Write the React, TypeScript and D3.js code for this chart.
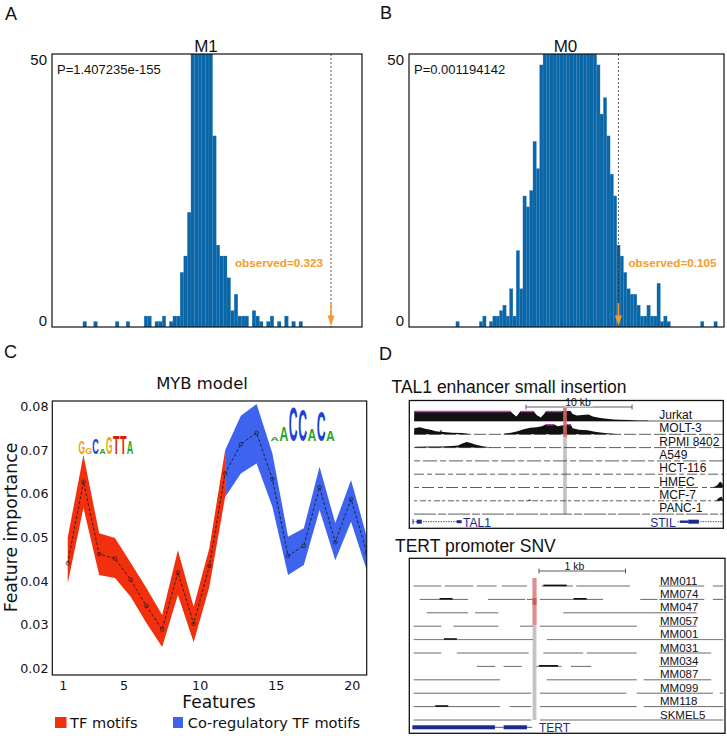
import React from "react";
import * as d3 from "d3";

const HELV = "'Liberation Sans', Arial, Helvetica, sans-serif";
const DEJA = "'DejaVu Sans', sans-serif";

// ---------- Panel A / B : permutation histograms (counts per bin) ----------
const histA = [
  0, 0, 0, 0, 0, 0, 0, 0, 1, 0, 0, 1, 0, 0, 0, 0, 0, 1,
  0, 0, 1, 0, 0, 0, 0, 2, 2, 0,
  1, 1, 2, 0, 1, 2, 2, 10, 13, 21,
  62, 95, 118, 112, 88, 64, 35, 15, 13, 13,
  9, 3, 6, 2, 2, 2, 0, 3, 2, 1,
  0, 1, 2, 0, 1, 0, 2, 0, 1, 0,
  1, 0, 0, 0, 0, 0, 0, 0, 0, 0, 0, 0, 0, 0, 0, 0, 0,
];
const histB = [
  0, 0, 0, 0, 0, 0, 0, 0, 0, 0, 0, 0, 0, 0,
  1, 0, 0, 0, 0, 0, 0,
  1, 2, 0, 1, 2, 2, 3, 4, 2, 7,
  2, 14, 7, 24, 22, 25, 34, 29, 48, 55,
  60, 66, 72, 78, 82, 85, 88, 86, 84, 80,
  75, 70, 64, 58, 53, 48, 39, 42, 35, 28,
  24, 15, 13, 10, 7, 6, 6, 4, 2, 2,
  4, 2, 2, 8, 1, 2, 1,
  0, 0, 0, 0, 0, 0, 0, 0, 0,
  1, 0, 0, 0, 1, 0, 0,
];
const histYTicks = [0, 50];
const titleA = "M1";
const titleB = "M0";
const pTextA = "P=1.407235e-155";
const pTextB = "P=0.001194142";
const obsTextA = "observed=0.323";
const obsTextB = "observed=0.105";
const obsBinA = 76.9;
const obsBinB = 62.5;

// ---------- Panel C : feature importance ----------
const featureIds = [1, 2, 3, 4, 5, 6, 7, 8, 9, 10, 11, 12, 13, 14, 15, 16, 17, 18, 19, 20];
const featMean = [0.0441, 0.0628, 0.0462, 0.0452, 0.0403, 0.0343, 0.0289, 0.042, 0.0302, 0.0435, 0.0647, 0.0714, 0.074, 0.0634, 0.0458, 0.0481, 0.0615, 0.0489, 0.0588, 0.0465];
const featUpper = [0.05, 0.0689, 0.051, 0.0499, 0.0442, 0.0384, 0.0322, 0.0471, 0.0341, 0.0476, 0.07, 0.0779, 0.0806, 0.0693, 0.0502, 0.0521, 0.0662, 0.0533, 0.0632, 0.0502];
const featLower = [0.0395, 0.0568, 0.0414, 0.0407, 0.0364, 0.0304, 0.0249, 0.0368, 0.026, 0.0387, 0.0593, 0.0647, 0.067, 0.0571, 0.0414, 0.0437, 0.0563, 0.0448, 0.0536, 0.0425];
const tfRange = [1, 11];
const coRange = [11, 20];
const cYTicks = [0.02, 0.03, 0.04, 0.05, 0.06, 0.07, 0.08];
const cXTicks = [1, 5, 10, 15, 20];
const legendLabels = ["TF motifs", "Co-regulatory TF motifs"];
// sequence logos: one dominant letter per column [letter, height]
const logoTF: [string, number][] = [["G", 13], ["G", 6], ["C", 16], ["A", 4.5], ["G", 17], ["T", 18], ["T", 18], ["A", 13]];
const logoCo: [string, number][] = [["A", 3.5], ["A", 15], ["C", 35], ["C", 32], ["A", 12], ["C", 30], ["A", 11]];

// ---------- Panel D : genome browser tracks ----------
const talTracks = ["Jurkat", "MOLT-3", "RPMI 8402", "A549", "HCT-116", "HMEC", "MCF-7", "PANC-1"];
const jurkatCov: [number, number][] = [[0.45, 0], [0.47, 10], [9.5, 10], [9.8, 7], [10.1, 4.5], [10.35, 8], [10.5, 10], [11.7, 10], [12.0, 6], [12.4, 3.5], [12.7, 7], [12.9, 10], [15.2, 10], [15.4, 7], [15.8, 5.5], [16.3, 6], [16.9, 6.5], [17.3, 4.5], [18.0, 3], [18.6, 2.2], [19.3, 1.5], [19.9, 1.2], [20.8, 0.9], [21.5, 0.6], [22.4, 0.5], [22.6, 0]];
const jurkatSat: [number, number][] = [[0.47, 9.5], [10.5, 11.7], [12.9, 14.4]];
const moltCov: [number, number][] = [[0.45, 0], [0.47, 6], [1.0, 7], [1.5, 5.5], [2.0, 4.5], [2.5, 3], [2.9, 2.5], [3.0, 5], [3.05, 2.5], [3.5, 2], [4.0, 1.5], [5.0, 1.2], [5.5, 0.5], [5.7, 0], [8.8, 0], [9.1, 1], [9.6, 1.5], [10.2, 3], [10.8, 5], [11.4, 6.5], [12.0, 7], [12.5, 8], [12.9, 10], [13.6, 10], [14.0, 8], [14.5, 9], [14.9, 10], [15.2, 10], [15.4, 6], [16.0, 4.5], [16.8, 4], [17.5, 2.5], [18.2, 1.5], [19.2, 0.6], [19.6, 0]];
const moltSat: [number, number][] = [[12.9, 13.6], [14.9, 15.2]];
const rpmiCov: [number, number][] = [[0.5, 0], [0.6, 0.8], [2.0, 1.2], [3.0, 1], [4.0, 1.5], [4.6, 2.2], [5.0, 4], [5.4, 5.5], [5.8, 4.5], [6.2, 3], [6.6, 2], [7.0, 1.2], [7.5, 0.6], [7.8, 0]];
const hmecCov: [number, number][] = [[28.6, 0], [29.0, 2], [29.3, 6], [29.5, 4], [29.6, 0]];
const mcfCov: [number, number][] = [[11.2, 0], [11.35, 1.5], [11.5, 0], [26.0, 0], [26.2, 1], [26.4, 0], [28.9, 0], [29.2, 3], [29.45, 4], [29.6, 0]];
const talDash = ["none", "12,3", "12,3", "6,3,14,3", "10,3,5,3", "5,3,12,4", "3,3,6,2", "22,2,8,2"];
const talScaleBar = [11, 21];
const talHighlight = [14.5, 14.85];

const tertTracks = ["MM011", "MM074", "MM047", "MM057", "MM001", "MM031", "MM034", "MM087", "MM099", "MM118", "SKMEL5"];
const tertSegs: [number, number][][] = [
  [[0.05, 0.37], [0.41, 0.74], [0.78, 1.01], [1.07, 1.36], [1.53, 1.89], [1.93, 2.55], [2.89, 3.41], [3.51, 3.63]],
  [[0.12, 0.68], [0.91, 1.34], [1.36, 1.43], [1.51, 2.24], [2.67, 2.87], [2.89, 3.41], [3.51, 3.63]],
  [[0.2, 0.68], [0.76, 1.03], [1.78, 3.32]],
  [[0.05, 0.37], [0.51, 1.03], [1.28, 1.43], [1.51, 2.63], [2.89, 3.32]],
  [[0.05, 1.43], [1.59, 3.63]],
  [[0.05, 0.37], [0.55, 1.38], [1.55, 2.01], [2.05, 2.63], [2.89, 3.49]],
  [[0.78, 0.99], [1.09, 1.3], [1.47, 1.76], [1.87, 2.1], [2.89, 3.32]],
  [[0.05, 1.05], [1.59, 2.63], [2.71, 3.49]],
  [[0.05, 1.41], [1.51, 2.51], [2.63, 3.51], [3.59, 3.63]],
  [[0.05, 1.05], [1.16, 1.41], [1.51, 2.63], [2.71, 3.63]],
  [[0.05, 1.41], [1.51, 3.63]],
];
const tertBumps: [number, number, number][] = [[0, 1.55, 1.82], [1, 0.35, 0.5], [1, 1.9, 2.05], [6, 1.5, 1.72], [4, 0.4, 0.55], [9, 0.3, 0.45]];
const tertScaleBar = [1.5, 2.5];
const tertHighlight = [1.425, 1.47];

const BLUE = "#0a66a6";
const ORANGE = "#f39a2e";
const NAVY = "#1c2a8c";

function Histogram(props: {
  counts: number[]; left: number; right: number; top: number; bottom: number;
  domain: [number, number]; title: string; pText: string; obsBin: number; obsText: string; obsLeft: boolean; id: string;
}) {
  const { counts, left, right, top, bottom, domain, title, pText, obsBin, obsText, obsLeft, id } = props;
  const x = d3.scaleLinear().domain(domain).range([left, right]);
  const y = d3.scaleLinear().domain([0, 50]).range([bottom, top]);
  const ox = x(obsBin);
  return (
    <g>
      <clipPath id={id}>
        <rect x={left} y={top} width={right - left} height={bottom - top} />
      </clipPath>
      <g clipPath={`url(#${id})`}>
        {counts.map((c, k) =>
          c > 0 ? (
            <rect key={k} x={x(k)} y={y(c)} width={x(k + 1) - x(k)} height={bottom - y(c)} fill={BLUE} stroke="#3b86c0" strokeWidth={0.3} />
          ) : null
        )}
      </g>
      <line x1={ox} x2={ox} y1={top} y2={bottom} stroke="#333" strokeWidth={0.8} strokeDasharray="2,2" />
      <rect x={left} y={top} width={right - left} height={bottom - top} fill="none" stroke="#111" strokeWidth={1.2} />
      {histYTicks.map((t) => (
        <text key={t} x={left - 5} y={y(t) + (t === 0 ? -1 : 11)} textAnchor="end" fontFamily={HELV} fontSize={15} fill="#111">{t}</text>
      ))}
      <text x={(left + right) / 2 - 1} y={51.5} textAnchor="middle" fontFamily={HELV} fontSize={17} fill="#111">{title}</text>
      <text x={left + 5} y={73.5} fontFamily={HELV} fontSize={13} fill="#111">{pText}</text>
      <text x={obsLeft ? ox - 8 : ox + 10} y={266.5} textAnchor={obsLeft ? "end" : "start"} fontFamily={HELV} fontSize={11.7} fontWeight="bold" fill={ORANGE}>{obsText}</text>
      <line x1={ox} x2={ox} y1={303} y2={318} stroke={ORANGE} strokeWidth={1.6} />
      <path d={`M${ox - 3.5},315.5 L${ox + 3.5},315.5 L${ox},326 Z`} fill={ORANGE} />
    </g>
  );
}

const ADV: Record<string, number> = { A: 0.722, C: 0.722, G: 0.778, T: 0.611 };
const LOGO_COL: Record<string, string> = { A: "#2aa52a", C: "#1f3fd6", G: "#f5a300", T: "#d61e0a" };

function Logo({ cols, x0, colW, yBottom }: { cols: [string, number][]; x0: number; colW: number; yBottom: number }) {
  return (
    <g>
      {cols.map(([ch, h], i) => {
        const sx = (colW * 0.95) / (ADV[ch] * 100);
        const sy = h / 71.6;
        return (
          <text key={i} transform={`translate(${x0 + colW * (i + 0.5)},${yBottom}) scale(${sx},${sy})`} textAnchor="middle" fontFamily={HELV} fontWeight="bold" fontSize={100} fill={LOGO_COL[ch]}>{ch}</text>
        );
      })}
    </g>
  );
}

function PanelC() {
  const left = 52.3, right = 366.7, top = 401, bottom = 675;
  const x = d3.scaleLinear().domain([0.277, 20.95]).range([left, right]);
  const y = d3.scaleLinear().domain([0.02, 0.08]).range([668.3, 406.7]);
  const pos = (f: number) => 1.29 + (f - 1) * 1.035;
  const rows = featureIds.map((f, i) => ({ f, m: featMean[i], u: featUpper[i], l: featLower[i] }));
  const area = d3.area<any>().x((d) => x(pos(d.f))).y0((d) => y(d.l)).y1((d) => y(d.u));
  const line = d3.line<any>().x((d) => x(pos(d.f))).y((d) => y(d.m));
  const tf = rows.filter((r) => r.f >= tfRange[0] && r.f <= tfRange[1]);
  const co = rows.filter((r) => r.f >= coRange[0] && r.f <= coRange[1]);
  return (
    <g>
      <text x={4} y={358} fontFamily={HELV} fontSize={18} fill="#111">C</text>
      <text x={202} y={389} textAnchor="middle" fontFamily={DEJA} fontSize={16.4} fill="#111">MYB model</text>
      <clipPath id="clipC"><rect x={left} y={top} width={right - left} height={bottom - top} /></clipPath>
      <g clipPath="url(#clipC)">
        <path d={area(tf) || ""} fill="#f2300e" />
        <path d={area(co) || ""} fill="#3d63ef" />
        <path d={line(rows) || ""} fill="none" stroke="#111" strokeWidth={0.8} strokeDasharray="3,2" />
        {rows.map((r) => (
          <circle key={r.f} cx={x(pos(r.f))} cy={y(r.m)} r={1.8} fill="none" stroke="#111" strokeWidth={0.6} />
        ))}
      </g>
      <rect x={left} y={top} width={right - left} height={bottom - top} fill="none" stroke="#111" strokeWidth={1.2} />
      {cYTicks.map((t) => (
        <text key={t} x={48.5} y={y(t) + 4.5} textAnchor="end" fontFamily={DEJA} fontSize={12.7} fill="#111">{t.toFixed(2)}</text>
      ))}
      {cXTicks.map((t) => (
        <text key={t} x={x(t)} y={690} textAnchor="middle" fontFamily={DEJA} fontSize={12.7} fill="#111">{t}</text>
      ))}
      <text x={219} y={708.3} textAnchor="middle" fontFamily={DEJA} fontSize={17.1} fill="#111">Features</text>
      <text transform="translate(16.5,527.5) rotate(-90)" textAnchor="middle" fontFamily={DEJA} fontSize={17.3} fill="#111">Feature importance</text>
      <Logo cols={logoTF} x0={78.3} colW={6.9} yBottom={454} />
      <Logo cols={logoCo} x0={270} colW={9.3} yBottom={440.7} />
      <rect x={55} y={717} width={11.5} height={11} fill="#f2300e" />
      <text x={70} y={727.5} fontFamily={DEJA} fontSize={14.6} fill="#111">{legendLabels[0]}</text>
      <rect x={173} y={717} width={10} height={11} fill="#3d63ef" />
      <text x={187.7} y={727.5} fontFamily={DEJA} fontSize={14.6} fill="#111">{legendLabels[1]}</text>
    </g>
  );
}

function PanelD() {
  // TAL1 region
  const bx0 = 409.3, bx1 = 723.3, by0 = 400.5, by1 = 528.3;
  const x = d3.scaleLinear().domain([0, 29.6]).range([bx0, bx1]);
  const lineY = (i: number) => 421 + 13.3 * i;
  const cov = (data: [number, number][], i: number) =>
    d3.area<[number, number]>().x((d) => x(d[0])).y0(lineY(i)).y1((d) => lineY(i) - d[1])(data) || "";
  const geneY = 521.7;
  // TERT region
  const tx0 = 409.3, tx1 = 725, ty0 = 558.3, ty1 = 733.3;
  const tx = d3.scaleLinear().domain([0, 3.65]).range([tx0, tx1]);
  const tLineY = (i: number) => 586 + 13.4 * i;
  const tGeneY = 727.3;
  return (
    <g>
      <text x={379} y={360} fontFamily={HELV} fontSize={18} fill="#111">D</text>
      <text x={391.5} y={393} fontFamily={HELV} fontSize={17.5} fill="#111">TAL1 enhancer small insertion</text>
      <rect x={x(talHighlight[0])} width={x(talHighlight[1]) - x(talHighlight[0])} y={408} height={514 - 408} fill="#c4c4c4" />
      {talTracks.map((name, i) => (
        <g key={name}>
          <line x1={x(0.45)} x2={x(29.6)} y1={lineY(i)} y2={lineY(i)} stroke="#333" strokeWidth={0.8} strokeDasharray={talDash[i]} />
          <text x={659.3} y={lineY(i) - 2} fontFamily={HELV} fontSize={12} fill="#111">{name}</text>
        </g>
      ))}
      <path d={cov(jurkatCov, 0)} fill="#111" />
      {jurkatSat.map(([a, b], k) => (
        <line key={k} x1={x(a)} x2={x(b)} y1={lineY(0) - 9.5} y2={lineY(0) - 9.5} stroke="#c23ac8" strokeWidth={1.4} />
      ))}
      <path d={cov(moltCov, 1)} fill="#111" />
      {moltSat.map(([a, b], k) => (
        <line key={k} x1={x(a)} x2={x(b)} y1={lineY(1) - 9.5} y2={lineY(1) - 9.5} stroke="#c23ac8" strokeWidth={1.4} />
      ))}
      <path d={cov(rpmiCov, 2)} fill="#111" />
      <path d={cov(hmecCov, 5)} fill="#111" />
      <path d={cov(mcfCov, 6)} fill="#111" />
      <rect x={x(talHighlight[0])} width={x(talHighlight[1]) - x(talHighlight[0])} y={408} height={437 - 408} fill="#e46a6a" opacity={0.85} />
      <line x1={x(talScaleBar[0])} x2={x(talScaleBar[1])} y1={407} y2={407} stroke="#333" strokeWidth={0.8} />
      <line x1={x(talScaleBar[0])} x2={x(talScaleBar[0])} y1={404.5} y2={409.5} stroke="#333" strokeWidth={0.8} />
      <line x1={x(talScaleBar[1])} x2={x(talScaleBar[1])} y1={404.5} y2={409.5} stroke="#333" strokeWidth={0.8} />
      <rect x={x(16) - 14} y={399} width={28} height={7.5} fill="#fff" />
      <text x={x(16) - 1} y={406} textAnchor="middle" fontFamily={HELV} fontSize={10.5} fill="#111">10 kb</text>
      <line x1={x(0.35)} x2={x(4.5)} y1={geneY} y2={geneY} stroke={NAVY} strokeWidth={0.8} strokeDasharray="1.5,1" />
      <line x1={x(0.35)} x2={x(0.35)} y1={geneY - 2.5} y2={geneY + 2.5} stroke={NAVY} strokeWidth={1} />
      <rect x={x(0.7)} y={geneY - 2} width={x(1.17) - x(0.7)} height={4} fill={NAVY} />
      <rect x={x(4.47)} y={geneY - 1.5} width={x(4.94) - x(4.47)} height={3} fill={NAVY} />
      <text x={x(5.07)} y={526.5} fontFamily={HELV} fontSize={12} fill={NAVY}>TAL1</text>
      <text x={x(25.1)} y={526.5} textAnchor="end" fontFamily={HELV} fontSize={12} fill={NAVY}>STIL</text>
      <line x1={x(25.3)} x2={x(29.55)} y1={geneY} y2={geneY} stroke={NAVY} strokeWidth={0.8} strokeDasharray="1.5,1" />
      <rect x={x(25.5)} y={geneY - 1.2} width={x(26.3) - x(25.5)} height={2.4} fill={NAVY} />
      <rect x={x(26.3)} y={geneY - 2} width={x(27.3) - x(26.3)} height={4} fill={NAVY} />
      <rect x={bx0} y={by0} width={bx1 - bx0} height={by1 - by0} fill="none" stroke="#111" strokeWidth={1.3} />

      <text x={395} y={551.5} fontFamily={HELV} fontSize={17.5} fill="#111">TERT promoter SNV</text>
      <rect x={tx(tertHighlight[0])} width={tx(tertHighlight[1]) - tx(tertHighlight[0])} y={578} height={720 - 578} fill="#c4c4c4" />
      {tertTracks.map((name, i) => (
        <g key={name}>
          {tertSegs[i].map(([a, b], k) => (
            <line key={k} x1={tx(a)} x2={tx(b)} y1={tLineY(i)} y2={tLineY(i)} stroke={i === 4 ? "#555" : "#444"} strokeWidth={0.8} />
          ))}
          <text x={660} y={tLineY(i) - 1.5} fontFamily={HELV} fontSize={11.5} fill="#111">{name}</text>
        </g>
      ))}
      {tertBumps.map(([i, a, b], k) => (
        <line key={k} x1={tx(a)} x2={tx(b)} y1={tLineY(i) - 0.6} y2={tLineY(i) - 0.6} stroke="#111" strokeWidth={1.6} />
      ))}
      <rect x={tx(tertHighlight[0])} width={tx(tertHighlight[1]) - tx(tertHighlight[0])} y={578} height={625 - 578} fill="#e88a8a" />
      <rect x={tx(tertHighlight[0])} width={tx(tertHighlight[1]) - tx(tertHighlight[0])} y={598} height={7} fill="#d05c5c" />
      <line x1={tx(tertScaleBar[0])} x2={tx(tertScaleBar[1])} y1={571} y2={571} stroke="#333" strokeWidth={0.8} />
      <line x1={tx(tertScaleBar[0])} x2={tx(tertScaleBar[0])} y1={568.5} y2={573.5} stroke="#333" strokeWidth={0.8} />
      <line x1={tx(tertScaleBar[1])} x2={tx(tertScaleBar[1])} y1={568.5} y2={573.5} stroke="#333" strokeWidth={0.8} />
      <rect x={tx(1.91) - 11} y={562} width={22} height={8} fill="#fff" />
      <text x={tx(1.91)} y={569.5} textAnchor="middle" fontFamily={HELV} fontSize={10.5} fill="#111">1 kb</text>
      <rect x={tx(0.035)} y={tGeneY - 2} width={tx(0.99) - tx(0.035)} height={4} fill={NAVY} />
      <line x1={tx(0.99)} x2={tx(1.09)} y1={tGeneY} y2={tGeneY} stroke={NAVY} strokeWidth={0.8} />
      <rect x={tx(1.09)} y={tGeneY - 2} width={tx(1.36) - tx(1.09)} height={4} fill={NAVY} />
      <line x1={tx(1.36)} x2={tx(1.42)} y1={tGeneY} y2={tGeneY} stroke={NAVY} strokeWidth={0.8} />
      <text x={tx(1.5)} y={732} fontFamily={HELV} fontSize={12} fill={NAVY}>TERT</text>
      <rect x={tx0} y={ty0} width={tx1 - tx0} height={ty1 - ty0} fill="none" stroke="#111" strokeWidth={1.3} />
    </g>
  );
}

export default function App() {
  return (
    <svg width={727} height={736} viewBox="0 0 727 736" style={{ position: "absolute", left: 0, top: 0, background: "#fff" }}>
      <rect x={0} y={0} width={727} height={736} fill="#fff" />
      <text x={5} y={19.5} fontFamily={HELV} fontSize={18} fill="#111">A</text>
      <text x={380} y={18.5} fontFamily={HELV} fontSize={18} fill="#111">B</text>
      <Histogram id="clipA" counts={histA} left={52} right={362} top={54} bottom={327} domain={[-0.6, 85.5]} title={titleA} pText={pTextA} obsBin={obsBinA} obsText={obsTextA} obsLeft={true} />
      <Histogram id="clipB" counts={histB} left={409} right={724} top={54} bottom={327} domain={[0, 94]} title={titleB} pText={pTextB} obsBin={obsBinB} obsText={obsTextB} obsLeft={false} />
      <PanelC />
      <PanelD />
    </svg>
  );
}
